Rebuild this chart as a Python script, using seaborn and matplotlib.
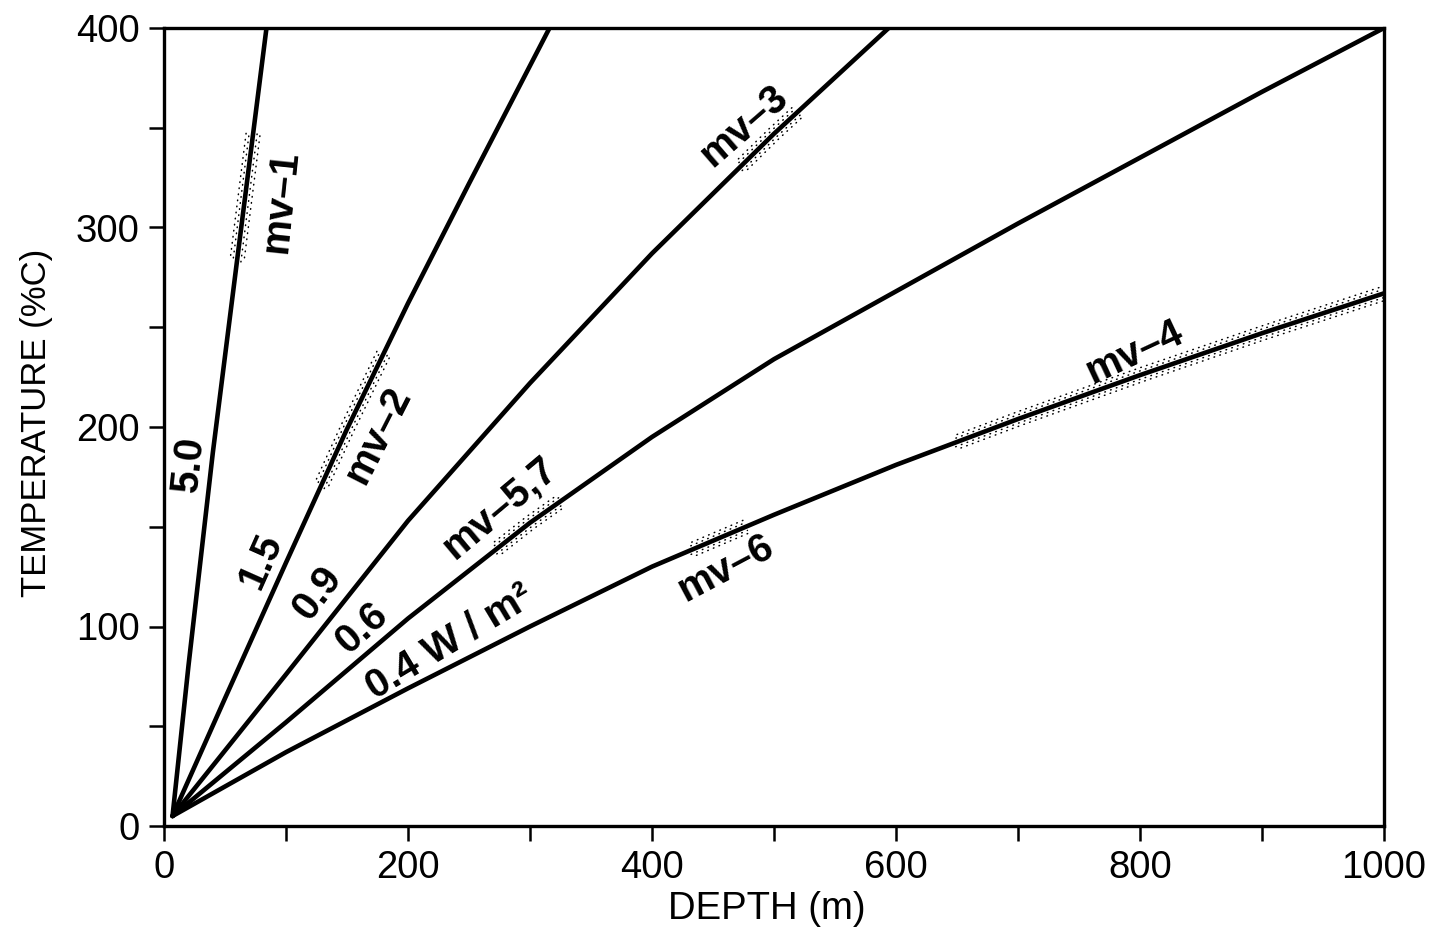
import numpy as np
import pandas as pd
import matplotlib
matplotlib.use("Agg")
import matplotlib.pyplot as plt
import matplotlib.transforms as mtransforms
from matplotlib import font_manager as fm
from matplotlib.ticker import MultipleLocator
import seaborn as sns

# ---------------- data ----------------
flux_labels = ["5.0", "1.5", "0.9", "0.6", "0.4"]

depth_5_0 = [7, 20, 40, 60, 84]
temp_5_0 = [5, 80, 187, 284, 400]

depth_1_5 = [7, 50, 100, 150, 200, 250, 316]
temp_1_5 = [5, 64, 132, 199, 262, 322, 400]

depth_0_9 = [7, 100, 200, 300, 400, 500, 594]
temp_0_9 = [5, 76, 153, 222, 287, 347, 400]

depth_0_6 = [7, 100, 200, 300, 400, 500, 600, 700, 800, 900, 1000]
temp_0_6 = [5, 52, 104, 152, 195, 234, 268, 302, 335, 368, 400]

depth_0_4 = [7, 100, 200, 300, 400, 500, 600, 700, 800, 900, 1000]
temp_0_4 = [5, 37, 69, 100, 130, 156, 181, 204, 226, 247, 267]

# wells: curve they sit on, and temperature span of the measured (stippled) section
well_names = ["mv–1", "mv–2", "mv–3", "mv–5,7", "mv–6", "mv–4"]
well_curve = ["5.0", "1.5", "0.9", "0.6", "0.4", "0.4"]
well_tmin = [283, 170, 330, 138, 138, 192]
well_tmax = [348, 237, 358, 163, 150, 267]

x_ticks = [0, 200, 400, 600, 800, 1000]
y_ticks = [0, 100, 200, 300, 400]

curves = {
    "5.0": (depth_5_0, temp_5_0),
    "1.5": (depth_1_5, temp_1_5),
    "0.9": (depth_0_9, temp_0_9),
    "0.6": (depth_0_6, temp_0_6),
    "0.4": (depth_0_4, temp_0_4),
}

df = pd.concat(
    [pd.DataFrame({"depth": curves[k][0], "temp": curves[k][1], "flux": k}) for k in flux_labels],
    ignore_index=True,
)

# ---------------- style ----------------
sns.set_style("ticks")
plt.rcParams["font.family"] = ["Liberation Sans", "DejaVu Sans"]
plt.rcParams["axes.edgecolor"] = "black"
plt.rcParams["axes.labelcolor"] = "black"
plt.rcParams["text.color"] = "black"
plt.rcParams["xtick.color"] = "black"
plt.rcParams["ytick.color"] = "black"

names = {f.name for f in fm.fontManager.ttflist}
narrow = "Liberation Sans Narrow" in names
label_family = ["Liberation Sans Narrow", "Liberation Sans", "DejaVu Sans"] if narrow else ["Liberation Sans", "DejaVu Sans"]
xlabel_size = 31 if narrow else 27.5
ylabel_size = 27 if narrow else 25

fig = plt.figure(figsize=(14.32, 9.38), dpi=100)
ax = fig.add_axes([164 / 1432, 1 - 826 / 938, 1220 / 1432, 798 / 938])

sns.lineplot(data=df, x="depth", y="temp", units="flux", estimator=None, sort=False,
             color="black", lw=3.3, ax=ax, legend=False)

ax.set_xlim(0, 1000)
ax.set_ylim(0, 400)
ax.set_xticks(x_ticks)
ax.set_yticks(y_ticks)
ax.xaxis.set_minor_locator(MultipleLocator(100))
ax.yaxis.set_minor_locator(MultipleLocator(50))
ax.tick_params(which="both", direction="out", length=10.5, width=1.8, labelsize=27.5, pad=7)
ax.tick_params(which="minor", labelbottom=False, labelleft=False)
for s in ax.spines.values():
    s.set_linewidth(2.4)
    s.set_color("black")

ax.set_xlabel("DEPTH (m)", fontsize=xlabel_size, family=label_family)
ax.set_ylabel("TEMPERATURE (%C)", fontsize=ylabel_size, family=label_family)
ax.xaxis.set_label_coords(0.494, -0.082)
ax.yaxis.set_label_coords(-0.091, 0.505)

# ---------------- stippled measured sections ----------------
def stipple(depth, temp, tmin, tmax):
    t = np.linspace(tmin, tmax, 60)
    d = np.interp(t, temp, depth)
    p0 = ax.transData.transform((d[0], t[0]))
    p1 = ax.transData.transform((d[-1], t[-1]))
    ang = np.arctan2(p1[1] - p0[1], p1[0] - p0[0])
    nx, ny = -np.sin(ang), np.cos(ang)
    for off, phase in ((-7, 1.0), (-4, 0.0), (4, 2.0), (7, 0.5)):
        tr = mtransforms.offset_copy(ax.transData, fig=fig, x=nx * off, y=ny * off, units="dots")
        ax.plot(d, t, transform=tr, color="black", lw=1.1,
                ls=(phase, (0.4, 3.6)), dash_capstyle="round")

for name, c, lo, hi in zip(well_names, well_curve, well_tmin, well_tmax):
    stipple(curves[c][0], curves[c][1], lo, hi)

# ---------------- labels on the curves ----------------
bold = dict(fontsize=29, fontweight="bold", ha="center", va="center",
            rotation_mode="anchor", color="black")
flux_text = ["5.0", "1.5", "0.9", "0.6", "0.4 W / m²"]
flux_pos = [(20.5, 181.5, 84), (79.5, 132.8, 66), (126, 116.8, 53), (162, 99.2, 42), (234, 92.2, 31)]
for txt, (x, y, r) in zip(flux_text, flux_pos):
    ax.text(x, y, txt, rotation=r, **bold)

well_pos = [(96, 313, 84), (175, 196, 63), (475, 351, 41), (275, 159.4, 40), (460, 129.3, 28), (795, 237.6, 25)]
for txt, (x, y, r) in zip(well_names, well_pos):
    ax.text(x, y, txt, rotation=r, **bold)

fig.savefig("out.png", dpi=100)
